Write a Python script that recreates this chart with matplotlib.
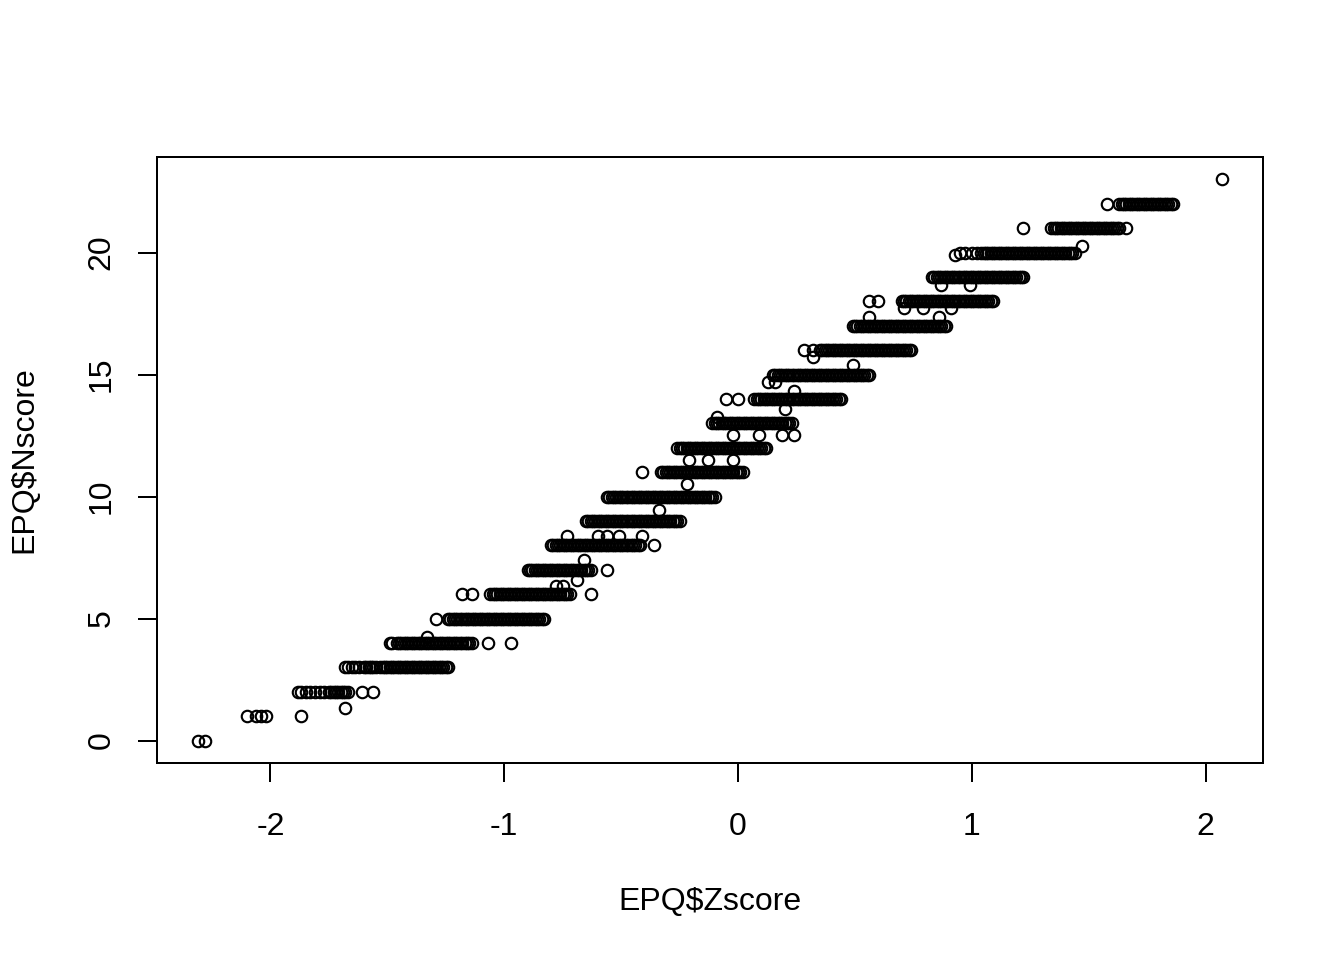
import matplotlib
matplotlib.use("Agg")
import matplotlib.pyplot as plt

plt.rcParams["font.family"] = ["Liberation Sans", "DejaVu Sans"]
plt.rcParams["axes.unicode_minus"] = False

# EPQ$Zscore values, grouped by EPQ$Nscore level
x_n0 = [-2.31, -2.28]
x_n1 = [-2.10, -2.06, -2.04, -2.02, -1.87]
x_n1b = [-1.68]
x_n2 = [-1.88, -1.87, -1.85, -1.83, -1.81, -1.79, -1.77, -1.75, -1.74, -1.73,
        -1.72, -1.71, -1.70, -1.69, -1.68, -1.67, -1.61, -1.56]
x_n3 = [-1.68, -1.67, -1.65, -1.64, -1.62, -1.60, -1.59, -1.58, -1.57, -1.56,
        -1.55, -1.53, -1.52, -1.51, -1.50, -1.49, -1.48, -1.47, -1.46, -1.45,
        -1.44, -1.43, -1.42, -1.41, -1.40, -1.39, -1.38, -1.37, -1.36, -1.35,
        -1.34, -1.33, -1.32, -1.31, -1.30, -1.29, -1.28, -1.27, -1.26, -1.25,
        -1.24]
x_n4 = [-1.49, -1.48, -1.46, -1.45, -1.44, -1.43, -1.42, -1.41, -1.40, -1.39,
        -1.38, -1.37, -1.36, -1.35, -1.34, -1.33, -1.32, -1.31, -1.30, -1.29,
        -1.28, -1.27, -1.26, -1.25, -1.24, -1.23, -1.22, -1.21, -1.20, -1.19,
        -1.18, -1.17, -1.16, -1.15, -1.14, -1.07, -0.97]
x_n4b = [-1.33]
x_n5 = [-1.29, -1.24, -1.23, -1.22, -1.21, -1.20, -1.19, -1.18, -1.17, -1.16,
        -1.15, -1.14, -1.13, -1.12, -1.11, -1.10, -1.09, -1.08, -1.07, -1.06,
        -1.05, -1.04, -1.03, -1.02, -1.01, -1.00, -0.99, -0.98, -0.97, -0.96,
        -0.95, -0.94, -0.93, -0.92, -0.91, -0.90, -0.89, -0.88, -0.87, -0.86,
        -0.85, -0.84, -0.83]
x_n6 = [-1.18, -1.14, -1.06, -1.05, -1.04, -1.03, -1.02, -1.01, -1.00, -0.99,
        -0.98, -0.97, -0.96, -0.95, -0.94, -0.93, -0.92, -0.91, -0.90, -0.89,
        -0.88, -0.87, -0.86, -0.85, -0.84, -0.83, -0.82, -0.81, -0.80, -0.79,
        -0.78, -0.77, -0.76, -0.75, -0.74, -0.73, -0.72, -0.63]
x_n6b = [-0.78, -0.75]
x_n6c = [-0.69]
x_n7 = [-0.90, -0.89, -0.88, -0.87, -0.86, -0.85, -0.84, -0.83, -0.82, -0.81,
        -0.80, -0.79, -0.78, -0.77, -0.76, -0.75, -0.74, -0.73, -0.72, -0.71,
        -0.70, -0.69, -0.68, -0.67, -0.66, -0.65, -0.64, -0.63, -0.56]
x_n7b = [-0.66]
x_n8 = [-0.80, -0.79, -0.78, -0.77, -0.76, -0.75, -0.74, -0.73, -0.72, -0.71,
        -0.70, -0.69, -0.68, -0.67, -0.66, -0.65, -0.64, -0.63, -0.62, -0.61,
        -0.60, -0.59, -0.58, -0.57, -0.56, -0.55, -0.54, -0.53, -0.52, -0.51,
        -0.50, -0.49, -0.48, -0.47, -0.46, -0.45, -0.44, -0.43, -0.42, -0.36]
x_n8b = [-0.73, -0.60, -0.56, -0.51, -0.41]
x_n9 = [-0.65, -0.64, -0.63, -0.62, -0.61, -0.60, -0.59, -0.58, -0.57, -0.56,
        -0.55, -0.54, -0.53, -0.52, -0.51, -0.50, -0.49, -0.48, -0.47, -0.46,
        -0.45, -0.44, -0.43, -0.42, -0.41, -0.40, -0.39, -0.38, -0.37, -0.36,
        -0.35, -0.34, -0.33, -0.32, -0.31, -0.30, -0.29, -0.28, -0.27, -0.26,
        -0.25]
x_n9b = [-0.34]
x_n10 = [-0.56, -0.55, -0.54, -0.53, -0.52, -0.51, -0.50, -0.49, -0.48, -0.47,
         -0.46, -0.45, -0.44, -0.43, -0.42, -0.41, -0.40, -0.39, -0.38, -0.37,
         -0.36, -0.35, -0.34, -0.33, -0.32, -0.31, -0.30, -0.29, -0.28, -0.27,
         -0.26, -0.25, -0.24, -0.23, -0.22, -0.21, -0.20, -0.19, -0.18, -0.17,
         -0.16, -0.15, -0.14, -0.13, -0.12, -0.11, -0.10]
x_n10b = [-0.22]
x_n11 = [-0.41, -0.33, -0.32, -0.31, -0.30, -0.29, -0.28, -0.27, -0.26, -0.25,
         -0.24, -0.23, -0.22, -0.21, -0.20, -0.19, -0.18, -0.17, -0.16, -0.15,
         -0.14, -0.13, -0.12, -0.11, -0.10, -0.09, -0.08, -0.07, -0.06, -0.05,
         -0.04, -0.03, -0.02, -0.01, 0.00, 0.01, 0.02]
x_n11b = [-0.21, -0.13, -0.02]
x_n12 = [-0.26, -0.25, -0.24, -0.23, -0.22, -0.21, -0.20, -0.19, -0.18, -0.17,
         -0.16, -0.15, -0.14, -0.13, -0.12, -0.11, -0.10, -0.09, -0.08, -0.07,
         -0.06, -0.05, -0.04, -0.03, -0.02, -0.01, 0.00, 0.01, 0.02, 0.03,
         0.04, 0.05, 0.06, 0.07, 0.08, 0.09, 0.10, 0.11, 0.12]
x_n12b = [-0.02, 0.09, 0.19, 0.24]
x_n13 = [-0.11, -0.10, -0.09, -0.08, -0.07, -0.06, -0.05, -0.04, -0.03, -0.02,
         -0.01, 0.00, 0.01, 0.02, 0.03, 0.04, 0.05, 0.06, 0.07, 0.08,
         0.09, 0.10, 0.11, 0.12, 0.13, 0.14, 0.15, 0.16, 0.17, 0.18,
         0.19, 0.20, 0.21, 0.22, 0.23]
x_n13b = [-0.09]
x_n13c = [0.20]
x_n14 = [-0.05, 0.00, 0.07, 0.08, 0.09, 0.10, 0.11, 0.12, 0.13, 0.14,
         0.15, 0.16, 0.17, 0.18, 0.19, 0.20, 0.21, 0.22, 0.23, 0.24,
         0.25, 0.26, 0.27, 0.28, 0.29, 0.30, 0.31, 0.32, 0.33, 0.34,
         0.35, 0.36, 0.37, 0.38, 0.39, 0.40, 0.41, 0.42, 0.43, 0.44]
x_n14b = [0.24]
x_n14c = [0.13, 0.16]
x_n15 = [0.15, 0.16, 0.17, 0.18, 0.19, 0.20, 0.21, 0.22, 0.23, 0.24,
         0.25, 0.26, 0.27, 0.28, 0.29, 0.30, 0.31, 0.32, 0.33, 0.34,
         0.35, 0.36, 0.37, 0.38, 0.39, 0.40, 0.41, 0.42, 0.43, 0.44,
         0.45, 0.46, 0.47, 0.48, 0.49, 0.50, 0.51, 0.52, 0.53, 0.54,
         0.55, 0.56]
x_n15b = [0.49]
x_n15c = [0.32]
x_n16 = [0.28, 0.32, 0.35, 0.36, 0.37, 0.38, 0.39, 0.40, 0.41, 0.42,
         0.43, 0.44, 0.45, 0.46, 0.47, 0.48, 0.49, 0.50, 0.51, 0.52,
         0.53, 0.54, 0.55, 0.56, 0.57, 0.58, 0.59, 0.60, 0.61, 0.62,
         0.63, 0.64, 0.65, 0.66, 0.67, 0.68, 0.69, 0.70, 0.71, 0.72,
         0.73, 0.74]
x_n17 = [0.49, 0.50, 0.51, 0.52, 0.53, 0.54, 0.55, 0.56, 0.57, 0.58,
         0.59, 0.60, 0.61, 0.62, 0.63, 0.64, 0.65, 0.66, 0.67, 0.68,
         0.69, 0.70, 0.71, 0.72, 0.73, 0.74, 0.75, 0.76, 0.77, 0.78,
         0.79, 0.80, 0.81, 0.82, 0.83, 0.84, 0.85, 0.86, 0.87, 0.88,
         0.89]
x_n17b = [0.56, 0.86]
x_n17c = [0.71, 0.79, 0.91]
x_n18 = [0.56, 0.60, 0.70, 0.71, 0.72, 0.73, 0.74, 0.75, 0.76, 0.77,
         0.78, 0.79, 0.80, 0.81, 0.82, 0.83, 0.84, 0.85, 0.86, 0.87,
         0.88, 0.89, 0.90, 0.91, 0.92, 0.93, 0.94, 0.95, 0.96, 0.97,
         0.98, 0.99, 1.00, 1.01, 1.02, 1.03, 1.04, 1.05, 1.06, 1.07,
         1.08, 1.09]
x_n18b = [0.87, 0.99]
x_n19 = [0.83, 0.84, 0.85, 0.86, 0.87, 0.88, 0.89, 0.90, 0.91, 0.92,
         0.93, 0.94, 0.95, 0.96, 0.97, 0.98, 0.99, 1.00, 1.01, 1.02,
         1.03, 1.04, 1.05, 1.06, 1.07, 1.08, 1.09, 1.10, 1.11, 1.12,
         1.13, 1.14, 1.15, 1.16, 1.17, 1.18, 1.19, 1.20, 1.21, 1.22]
x_n19b = [0.93]
x_n20 = [0.95, 0.97, 1.00, 1.02, 1.04, 1.05, 1.06, 1.07, 1.08, 1.09,
         1.10, 1.11, 1.12, 1.13, 1.14, 1.15, 1.16, 1.17, 1.18, 1.19,
         1.20, 1.21, 1.22, 1.23, 1.24, 1.25, 1.26, 1.27, 1.28, 1.29,
         1.30, 1.31, 1.32, 1.33, 1.34, 1.35, 1.36, 1.37, 1.38, 1.39,
         1.40, 1.41, 1.42, 1.43, 1.44]
x_n20b = [1.47]
x_n21 = [1.22, 1.34, 1.35, 1.36, 1.37, 1.38, 1.39, 1.40, 1.41, 1.42,
         1.43, 1.44, 1.45, 1.46, 1.47, 1.48, 1.49, 1.50, 1.51, 1.52,
         1.53, 1.54, 1.55, 1.56, 1.57, 1.58, 1.59, 1.60, 1.61, 1.62,
         1.63, 1.66]
x_n22 = [1.58, 1.63, 1.64, 1.65, 1.66, 1.67, 1.68, 1.69, 1.70, 1.71,
         1.72, 1.73, 1.74, 1.75, 1.76, 1.77, 1.78, 1.79, 1.80, 1.81,
         1.82, 1.83, 1.84, 1.85, 1.86]
x_n23 = [2.07]

nscore_levels = [0, 1, 1.35, 2, 3, 4, 4.26, 5, 6, 6.35, 6.6, 7, 7.4, 8, 8.4,
                 9, 9.47, 10, 10.5, 11, 11.5, 12, 12.54, 13, 13.28, 13.6,
                 14, 14.34, 14.71, 15, 15.41, 15.74, 16, 17, 17.38, 17.75,
                 18, 18.69, 19, 19.9, 20, 20.29, 21, 22, 23]
zscore_groups = [x_n0, x_n1, x_n1b, x_n2, x_n3, x_n4, x_n4b, x_n5, x_n6, x_n6b,
                 x_n6c, x_n7, x_n7b, x_n8, x_n8b, x_n9, x_n9b, x_n10, x_n10b,
                 x_n11, x_n11b, x_n12, x_n12b, x_n13, x_n13b, x_n13c, x_n14,
                 x_n14b, x_n14c, x_n15, x_n15b, x_n15c, x_n16, x_n17, x_n17b,
                 x_n17c, x_n18, x_n18b, x_n19, x_n19b, x_n20, x_n20b, x_n21,
                 x_n22, x_n23]

xs, ys = [], []
for level, group in zip(nscore_levels, zscore_groups):
    xs.extend(group)
    ys.extend([level] * len(group))

W, H = 1344, 960
fig = plt.figure(figsize=(7, 5), dpi=192)
ax = fig.add_axes([157 / W, 1 - 763 / H, (1263 - 157) / W, (763 - 157) / H])

ax.plot(xs, ys, linestyle="none", marker="o", markersize=4.3,
        markerfacecolor="none", markeredgecolor="black", markeredgewidth=0.8)

# R style 4% padding around the data range
xr = max(xs) - min(xs)
yr = max(ys) - min(ys)
ax.set_xlim(min(xs) - 0.04 * xr, max(xs) + 0.04 * xr)
ax.set_ylim(min(ys) - 0.04 * yr, max(ys) + 0.04 * yr)

ax.set_xticks([-2, -1, 0, 1, 2])
ax.set_yticks([0, 5, 10, 15, 20])
ax.tick_params(direction="out", length=7.2, width=0.75, labelsize=12)
ax.tick_params(axis="x", pad=11)
ax.tick_params(axis="y", labelrotation=90, pad=8)
for lab in ax.get_yticklabels():
    lab.set_va("center")
for s in ax.spines.values():
    s.set_linewidth(0.75)

fig.text(710 / W, 1 - 902 / H, "EPQ$Zscore", ha="center", va="center", fontsize=12)
fig.text(24 / W, 1 - 460 / H, "EPQ$Nscore", ha="center", va="center",
         rotation=90, fontsize=12)

fig.savefig("out.png", dpi=192, facecolor="white")
plt.close(fig)
